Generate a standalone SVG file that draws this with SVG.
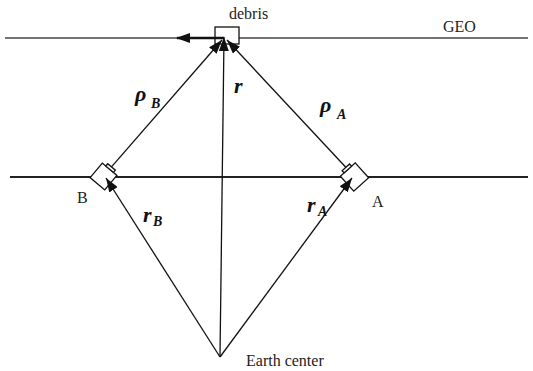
<svg xmlns="http://www.w3.org/2000/svg" width="533" height="371" viewBox="0 0 533 371">
<style>
.txt{font-family:"Liberation Serif","Times New Roman",serif;font-size:16px;fill:#222}
.m{font-family:"Liberation Serif","Times New Roman",serif;font-weight:bold;font-style:italic;font-size:22px;fill:#111}
.s{font-size:14px}
.vec{stroke:#111;stroke-width:1.3;fill:none;marker-end:url(#ah)}
.sat{fill:#fff;stroke:#111;stroke-width:1.3}
</style>
<defs>
<marker id="ah" viewBox="0 0 14 10" markerWidth="14" markerHeight="10" refX="14" refY="5" orient="auto" markerUnits="userSpaceOnUse">
<path d="M0,0 L14,5 L0,10 z" fill="#111"/>
</marker>
<marker id="ah2" viewBox="0 0 14 10" markerWidth="14" markerHeight="10" refX="13" refY="5" orient="auto" markerUnits="userSpaceOnUse">
<path d="M0,0 L14,5 L0,10 z" fill="#111"/>
</marker>
</defs>
<g id="orbits">
<line x1="5" y1="38" x2="215" y2="38" stroke="#444" stroke-width="1.5"/>
<line x1="239" y1="38" x2="528" y2="38" stroke="#444" stroke-width="1.5"/>
<line x1="10" y1="177" x2="528" y2="177" stroke="#222" stroke-width="2"/>
</g>
<g id="debris">
<rect x="215" y="27" width="24" height="17" fill="#fff" stroke="#111" stroke-width="1.3"/>
<text class="txt" x="229" y="19">debris</text>
</g>
<g id="geo-label"><text class="txt" x="443" y="32">GEO</text></g>
<g id="sat-B" transform="translate(103.5 176.5) rotate(40)">
<rect class="sat" x="-9.5" y="-9.5" width="19" height="19"/>
<rect class="sat" x="-5" y="-12.5" width="10" height="3" stroke-width="1"/>
</g>
<text class="txt" x="77" y="203">B</text>
<g id="sat-A" transform="translate(354.5 177) rotate(-42)">
<rect class="sat" x="-10" y="-10" width="20" height="20"/>
<rect class="sat" x="-5" y="-13" width="10" height="3" stroke-width="1"/>
</g>
<text class="txt" x="372" y="207">A</text>
<g id="earth"><text class="txt" x="246" y="366">Earth center</text></g>
<g id="connectors">
<line x1="224" y1="38" x2="177" y2="38" stroke="#111" stroke-width="2.5" marker-end="url(#ah2)"/>
<line class="vec" x1="111.5" y1="166.9" x2="222" y2="40"/>
<line class="vec" x1="345.8" y1="167.3" x2="227" y2="40"/>
<line class="vec" x1="220" y1="357" x2="224" y2="37"/>
<line class="vec" x1="220" y1="357" x2="106" y2="178"/>
<line class="vec" x1="220" y1="357" x2="352" y2="178"/>
</g>
<g id="labels">
<text class="m" x="135" y="101">ρ</text><text class="m s" x="151" y="108">B</text>
<text class="m" x="234" y="93">r</text>
<text class="m" x="320" y="112">ρ</text><text class="m s" x="337" y="119">A</text>
<text class="m" x="143" y="222">r</text><text class="m s" x="153" y="226">B</text>
<text class="m" x="307" y="212">r</text><text class="m s" x="318" y="216">A</text>
</g>
</svg>
